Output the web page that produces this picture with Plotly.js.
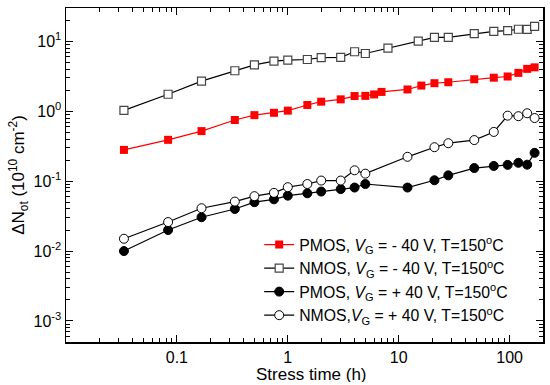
<!DOCTYPE html>
<html><head><meta charset="utf-8">
<script src="https://cdn.plot.ly/plotly-3.0.1.min.js"></script>
<style>html,body{margin:0;padding:0;background:#fff}#chart{width:550px;height:385px}</style>
</head><body><div id="chart"></div>
<script>
// Stress time (h) and Delta N_ot (1e10 cm^-2) per series
const timePmosNeg = [0.0333, 0.0833, 0.1667, 0.333, 0.5, 0.75, 1, 1.5, 2, 3, 4, 5, 6, 7, 12, 16, 21, 28, 48, 72, 96, 120, 144, 168];
const valPmosNeg  = [0.28, 0.39, 0.52, 0.75, 0.88, 0.95, 1.02, 1.23, 1.37, 1.48, 1.65, 1.66, 1.74, 1.89, 2.05, 2.33, 2.52, 2.6, 2.87, 3.02, 3.14, 3.54, 4.04, 4.25];

const timeNmosNeg = [0.0333, 0.0833, 0.1667, 0.333, 0.5, 0.75, 1, 1.5, 2, 3, 4, 5, 8, 15, 21, 28, 48, 72, 96, 120, 144, 168];
const valNmosNeg  = [1.03, 1.75, 2.7, 3.8, 4.6, 5.2, 5.4, 5.5, 5.85, 5.9, 7.1, 6.7, 8.0, 10.1, 11.4, 11.4, 12.9, 13.9, 14.2, 14.9, 14.8, 16.4];

const timePmosPos = [0.0333, 0.0833, 0.1667, 0.333, 0.5, 0.75, 1, 1.5, 2, 3, 4, 5, 12, 21, 28, 48, 72, 96, 120, 144, 168];
const valPmosPos  = [0.01, 0.02, 0.0305, 0.04, 0.05, 0.055, 0.062, 0.067, 0.071, 0.077, 0.081, 0.091, 0.081, 0.103, 0.121, 0.154, 0.165, 0.171, 0.183, 0.172, 0.254];

const timeNmosPos = [0.0333, 0.0833, 0.1667, 0.333, 0.5, 0.75, 1, 1.5, 2, 3, 4, 5, 12, 21, 28, 48, 72, 96, 120, 144, 168];
const valNmosPos  = [0.015, 0.026, 0.041, 0.051, 0.061, 0.068, 0.082, 0.091, 0.102, 0.102, 0.143, 0.128, 0.223, 0.306, 0.349, 0.387, 0.506, 0.865, 0.85, 0.936, 0.80];

const seriesNames = [
  'PMOS, <i>V</i><sub>G</sub> = - 40 V, T=150<sup>o</sup>C',
  'NMOS, <i>V</i><sub>G</sub> = - 40 V, T=150<sup>o</sup>C',
  'PMOS, <i>V</i><sub>G</sub> = + 40 V, T=150<sup>o</sup>C',
  'NMOS,<i>V</i><sub>G</sub> = + 40 V, T=150<sup>o</sup>C'
];

const xTickVals = [0.1, 1, 10, 100];
const xTickText = ['0.1', '1', '10', '100'];
const yTickVals = [0.001, 0.01, 0.1, 1, 10];
const yTickText = ['10<sup>-3</sup>', '10<sup>-2</sup>', '10<sup>-1</sup>', '10<sup>0</sup>', '10<sup>1</sup>'];

function minorLog(lo, hi) {
  const v = [];
  for (let e = lo; e <= hi; e++) for (let m = 2; m <= 9; m++) v.push(m * Math.pow(10, e));
  return v;
}

const FONT = 'Liberation Sans, Arial, sans-serif';

const traces = [
  {x: timePmosNeg, y: valPmosNeg, name: seriesNames[0], mode: 'lines+markers',
   line: {color: '#ff0000', width: 1.2},
   marker: {symbol: 'square', size: 8, color: '#ff0000', line: {color: '#ff0000', width: 0}}},
  {x: timeNmosNeg, y: valNmosNeg, name: seriesNames[1], mode: 'lines+markers',
   line: {color: '#000', width: 1.2},
   marker: {symbol: 'square', size: 8, color: '#fff', line: {color: '#444', width: 1.2}}},
  {x: timePmosPos, y: valPmosPos, name: seriesNames[2], mode: 'lines+markers',
   line: {color: '#000', width: 1.2},
   marker: {symbol: 'circle', size: 9, color: '#000', line: {color: '#000', width: 1}}},
  {x: timeNmosPos, y: valNmosPos, name: seriesNames[3], mode: 'lines+markers',
   line: {color: '#000', width: 1.2},
   marker: {symbol: 'circle', size: 9, color: '#fff', line: {color: '#000', width: 1}}}
];

const axisCommon = {
  type: 'log', showgrid: false, zeroline: false,
  showline: true, linecolor: '#000', linewidth: 1.5, mirror: 'ticks',
  ticks: 'inside', ticklen: 7, tickwidth: 1, tickcolor: '#000',
  tickmode: 'array',
  tickfont: {family: FONT, size: 16, color: '#000'}
};

const layout = {
  width: 550, height: 385,
  margin: {l: 66, r: 7, t: 8, b: 43},
  paper_bgcolor: '#fff', plot_bgcolor: '#fff',
  font: {family: FONT, color: '#000'},
  showlegend: true,
  legend: {x: 0.405, y: 0.342, xanchor: 'left', yanchor: 'top',
           bgcolor: 'rgba(0,0,0,0)', borderwidth: 0,
           font: {family: FONT, size: 15.8, color: '#000'}, itemwidth: 30},
  xaxis: Object.assign({}, axisCommon, {
    range: [Math.log10(0.01), Math.log10(200)],
    tickvals: xTickVals, ticktext: xTickText,
    minor: {tickmode: 'array', tickvals: minorLog(-2, 2), ticks: 'inside', ticklen: 4, tickwidth: 1, tickcolor: '#000'}
  }),
  yaxis: Object.assign({}, axisCommon, {
    range: [Math.log10(5e-4), Math.log10(30)],
    tickvals: yTickVals, ticktext: yTickText,
    minor: {tickmode: 'array', tickvals: minorLog(-4, 1), ticks: 'inside', ticklen: 4, tickwidth: 1, tickcolor: '#000'},
    title: {text: 'ΔN<sub>ot</sub> (10<sup>10</sup> cm<sup>-2</sup>)', font: {family: FONT, size: 17, color: '#000'}, standoff: 4}
  }),
  annotations: [{
    text: 'Stress time (h)', xref: 'paper', yref: 'paper',
    x: 0.514, y: -0.098, xanchor: 'center', yanchor: 'middle', height: 15, borderpad: 0,
    showarrow: false, font: {family: FONT, size: 17, color: '#000'}
  }]
};

Plotly.newPlot('chart', traces, layout, {staticPlot: true, displayModeBar: false});
</script>
</body></html>
